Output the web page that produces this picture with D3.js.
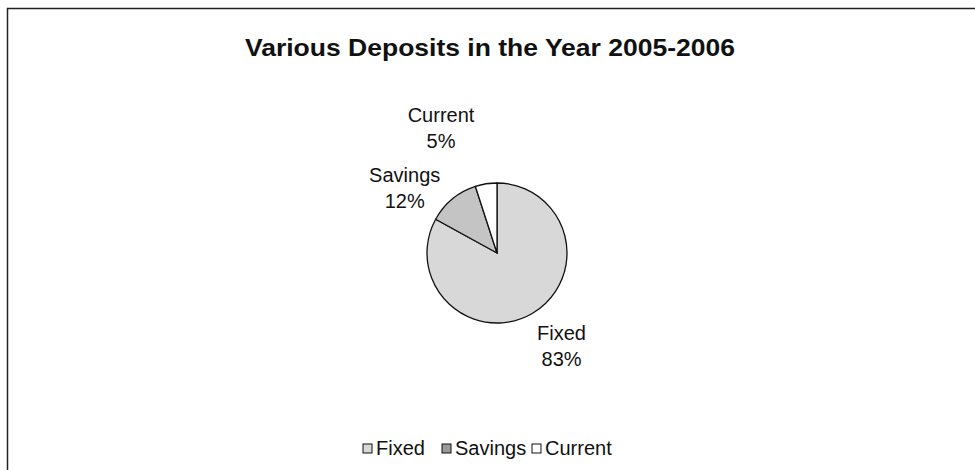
<!DOCTYPE html>
<html>
<head>
<meta charset="utf-8">
<script src="https://cdn.jsdelivr.net/npm/d3@7"></script>
<style>
  body { margin: 0; background: #fff; }
  text { font-family: "Liberation Sans", Arial, sans-serif; fill: #111; }
</style>
</head>
<body>
<script>
// chart data
var categories = ["Fixed", "Savings", "Current"];
var shares = [83, 12, 5];
var title = "Various Deposits in the Year 2005-2006";

var svgWidth = 975;
var svgHeight = 470;

var svg = d3.select('body')
    .append('svg')
    .attr('width', svgWidth)
    .attr('height', svgHeight);

// frame (scanned chart area border, runs off right and bottom)
svg.append('path')
    .attr('d', 'M7.5,470 V8.5 H975')
    .attr('fill', 'none')
    .attr('stroke', '#222')
    .attr('stroke-width', 1.5);

svg.append('text')
    .attr('x', 490)
    .attr('y', 56)
    .attr('text-anchor', 'middle')
    .attr('font-size', '24px')
    .attr('font-weight', 'bold')
    .attr('textLength', 490)
    .attr('lengthAdjust', 'spacingAndGlyphs')
    .text(title);

var fills = d3.scaleOrdinal()
    .domain(categories)
    .range(['#d8d8d8', '#c4c4c4', '#ffffff']);

var cx = 497, cy = 253, radius = 70;

var pie = d3.pie().sort(null).value(d => d.value);
var arcs = pie(categories.map((c, i) => ({name: c, value: shares[i]})));
var arc = d3.arc().innerRadius(0).outerRadius(radius);

var pieGroup = svg.append('g')
    .attr('transform', `translate(${cx},${cy})`);

pieGroup.selectAll('path')
    .data(arcs)
    .enter()
    .append('path')
    .attr('d', arc)
    .attr('fill', d => fills(d.data.name))
    .attr('stroke', '#111')
    .attr('stroke-width', 1.3);

// slice labels sit outside the pie
var labelArc = d3.arc().innerRadius(radius + 45).outerRadius(radius + 45);
var labelNudge = {Fixed: [6, -7], Savings: [-19, 23], Current: [-38, -12]};

var labels = pieGroup.selectAll('.slice-label')
    .data(arcs)
    .enter()
    .append('text')
    .attr('class', 'slice-label')
    .attr('text-anchor', 'middle')
    .attr('font-size', '20px')
    .attr('transform', d => {
        var p = labelArc.centroid(d);
        var n = labelNudge[d.data.name];
        return `translate(${p[0] + n[0]},${p[1] + n[1]})`;
    });
labels.append('tspan').attr('x', 0).attr('dy', '-0.25em').text(d => d.data.name);
labels.append('tspan').attr('x', 0).attr('dy', '1.3em').text(d => d.data.value + '%');

// legend
var legendX = [363, 442, 532];
var legend = svg.selectAll('.legend')
    .data(categories)
    .enter()
    .append('g')
    .attr('class', 'legend')
    .attr('transform', (d, i) => `translate(${legendX[i]},448)`);

legend.append('rect')
    .attr('x', 0).attr('y', -4)
    .attr('width', 9).attr('height', 9)
    .attr('fill', d => d === 'Savings' ? '#9a9a9a' : fills(d))
    .attr('stroke', '#111')
    .attr('stroke-width', 1);

legend.append('text')
    .attr('x', 13)
    .attr('y', 7)
    .attr('font-size', '20px')
    .text(d => d);
</script>
</body>
</html>
